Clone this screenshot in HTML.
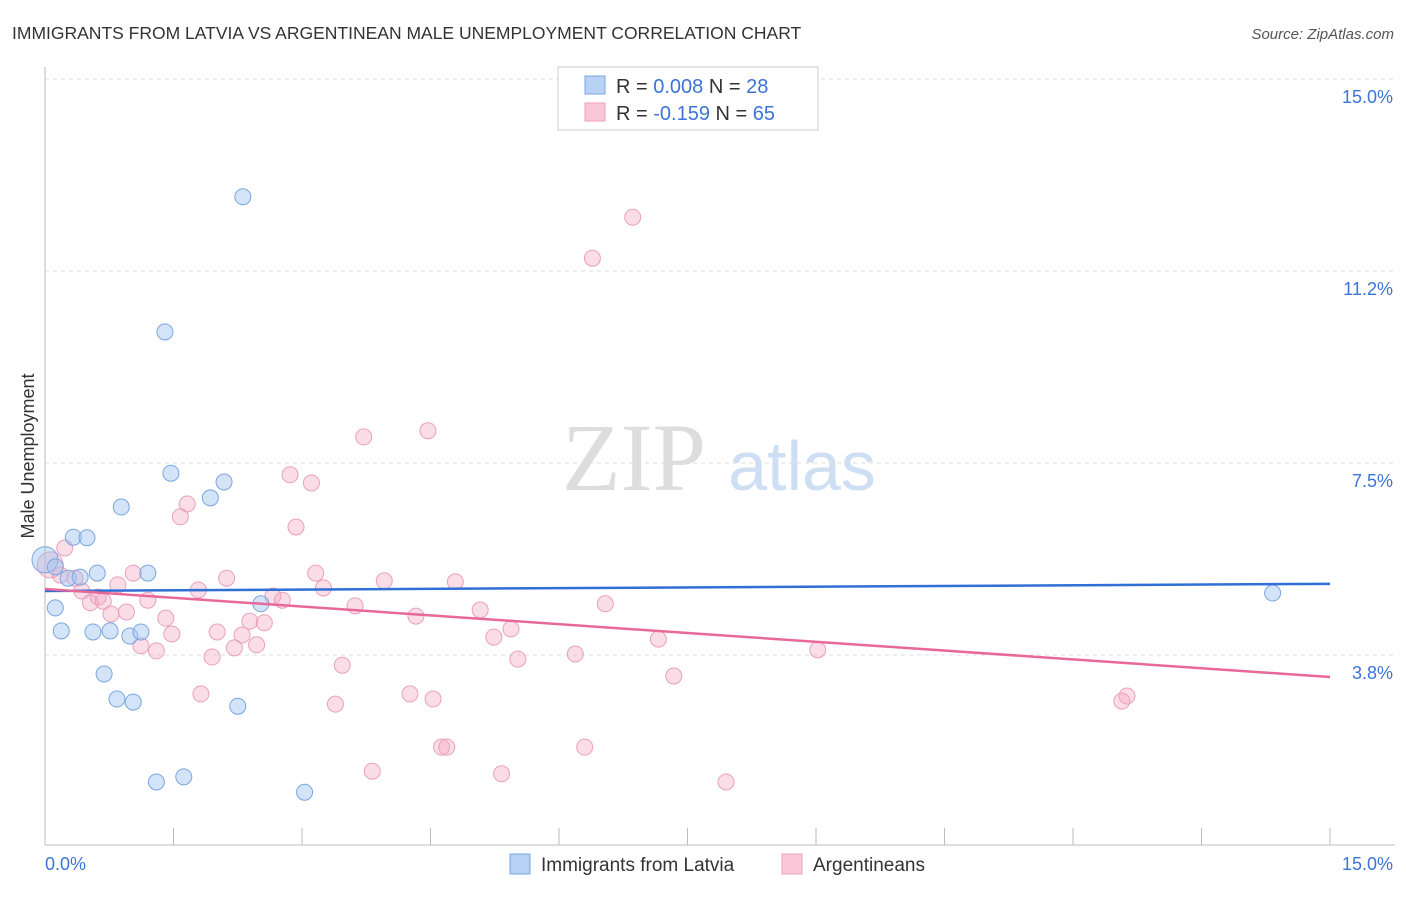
<!DOCTYPE html>
<html><head><meta charset="utf-8"><style>
body{margin:0;background:#fff;font-family:"Liberation Sans",sans-serif}
</style></head><body>
<svg id="c" width="1406" height="892" xmlns="http://www.w3.org/2000/svg">
<text x="12" y="39" font-size="17.5" fill="#333">IMMIGRANTS FROM LATVIA VS ARGENTINEAN MALE UNEMPLOYMENT CORRELATION CHART</text>
<text x="1394" y="39" font-size="15" fill="#555" font-style="italic" text-anchor="end">Source: ZipAtlas.com</text>
<text x="634" y="490" font-size="96" fill="#ddd" font-family="Liberation Serif,serif" text-anchor="middle">ZIP</text>
<text x="802" y="490" font-size="70" fill="#cfdff3" text-anchor="middle">atlas</text>
<text transform="translate(34,456) rotate(-90)" font-size="18" fill="#333" text-anchor="middle">Male Unemployment</text>
<g id="axes"></g>
<g id="marks"></g>
<g>
<rect x="558" y="67" width="260" height="63" fill="#fff" stroke="#ccc"/>
<rect x="585" y="76" width="20" height="18" fill="#b8d2f5" stroke="#7aa6e0"/>
<rect x="585" y="103" width="20" height="18" fill="#f9c7d8" stroke="#eaa0bb"/>
<text x="616" y="93" font-size="20" fill="#333">R = <tspan fill="#3b74d6">0.008</tspan>   N = <tspan fill="#3b74d6">28</tspan></text>
<text x="616" y="120" font-size="20" fill="#333">R = <tspan fill="#3b74d6">-0.159</tspan>   N = <tspan fill="#3b74d6">65</tspan></text>
</g>
<g>
<rect x="510" y="854" width="20" height="20" fill="#b8d2f5" stroke="#7aa6e0"/>
<text x="541" y="871" font-size="19" fill="#333">Immigrants from Latvia</text>
<rect x="782" y="854" width="20" height="20" fill="#f9c7d8" stroke="#eaa0bb"/>
<text x="813" y="871" font-size="19" fill="#333">Argentineans</text>
</g>
</svg>
<script>
const blueX=[2.31,1.40,1.47,2.09,1.93,0.89,0.33,0.49,0.00,0.12,0.27,0.41,0.61,1.20,0.12,2.52,0.19,0.56,0.76,0.99,1.12,0.69,0.84,1.03,2.25,1.30,1.62,3.03,14.33];
const blueY=[12.70,10.06,7.30,7.13,6.82,6.64,6.05,6.04,5.61,5.47,5.25,5.27,5.35,5.35,4.67,4.75,4.22,4.20,4.22,4.12,4.20,3.38,2.89,2.83,2.75,1.27,1.37,1.07,4.96];
const pinkX=[6.86,6.39,4.47,3.72,2.86,3.11,1.66,1.58,2.93,0.23,0.06,0.18,0.35,1.03,0.85,2.12,3.16,3.96,4.79,3.25,0.43,0.62,0.53,0.68,1.20,1.79,2.66,2.77,3.62,4.33,5.08,6.54,0.77,0.95,1.41,2.39,2.56,1.48,2.01,2.30,5.44,5.24,7.16,1.12,1.30,2.21,2.47,1.95,5.52,6.19,9.02,3.47,7.34,1.82,4.26,4.53,3.39,12.63,12.57,4.63,4.69,6.30,3.82,5.33,7.95];
const pinkY=[12.30,11.50,8.13,8.01,7.27,7.11,6.70,6.45,6.25,5.84,5.51,5.31,5.25,5.35,5.12,5.25,5.35,5.20,5.18,5.06,5.00,4.88,4.77,4.80,4.82,5.02,4.90,4.82,4.71,4.51,4.63,4.75,4.55,4.59,4.47,4.41,4.38,4.16,4.20,4.14,4.26,4.10,4.06,3.93,3.83,3.89,3.95,3.71,3.67,3.77,3.85,3.55,3.34,2.99,2.99,2.89,2.79,2.95,2.85,1.95,1.95,1.95,1.48,1.43,1.27];
const blueTrend=[5.00,5.14];
const pinkTrend=[5.04,3.32];
const yTicks=[3.8,7.5,11.2,15.0];
const yTickLabels=["3.8%","7.5%","11.2%","15.0%"];
const NS="http://www.w3.org/2000/svg";
const sx=v=>45+v*1285/15;
const sy=v=>847-v*51.2;
function mk(tag,attrs,parent){const e=document.createElementNS(NS,tag);for(const k in attrs)e.setAttribute(k,attrs[k]);parent.appendChild(e);return e;}
const axes=document.getElementById('axes'),marks=document.getElementById('marks');
yTicks.forEach((t,i)=>{
 const y=sy(t===3.8?3.75:t===11.2?11.25:t);
 const g=mk('line',{x1:45,x2:1395,y1:y,y2:y,stroke:'#ddd','stroke-dasharray':'4,4'},axes);
 
 
 const tx=mk('text',{x:1393,y:y+24,'font-size':18,fill:'#3b74d6','text-anchor':'end'},axes);
 tx.textContent=yTickLabels[i];
 
 
});
const ax=mk('line',{x1:45,x2:45,y1:67,y2:845,stroke:'#bbb'},axes);


const bx=mk('line',{x1:45,x2:1395,y1:845,y2:845,stroke:'#bbb'},axes);


for(let i=0;i<=10;i++){const x=sx(i*1.5);
 const t=mk('line',{x1:x,x2:x,y1:828,y2:845,stroke:'#bbb'},axes);
 
 }
const l0=mk('text',{x:45,y:870,'font-size':18,fill:'#3b74d6'},axes);l0.textContent='0.0%';


const l1=mk('text',{x:1393,y:870,'font-size':18,fill:'#3b74d6','text-anchor':'end'},axes);l1.textContent='15.0%';


function pts(X,Y,fill,stroke,name){X.forEach((v,i)=>{
 const big=(v===0||v===0.06);
 const c=mk('circle',{cx:sx(v),cy:sy(Y[i]),r:big?13:8,fill:fill,stroke:stroke,'stroke-width':1},marks);
 
 });}
pts(pinkX,pinkY,'rgba(244,170,196,0.4)','#eaa0bb','argentineans-point');
pts(blueX,blueY,'rgba(160,196,240,0.45)','#7aa6e0','latvia-point');
const bt=mk('line',{x1:sx(0),x2:sx(15),y1:sy(blueTrend[0]),y2:sy(blueTrend[1]),stroke:'#2f6fd6','stroke-width':2.5},marks);


const pt=mk('line',{x1:sx(0),x2:sx(15),y1:sy(pinkTrend[0]),y2:sy(pinkTrend[1]),stroke:'#e8689a','stroke-width':2.5},marks);


</script>
</body></html>
